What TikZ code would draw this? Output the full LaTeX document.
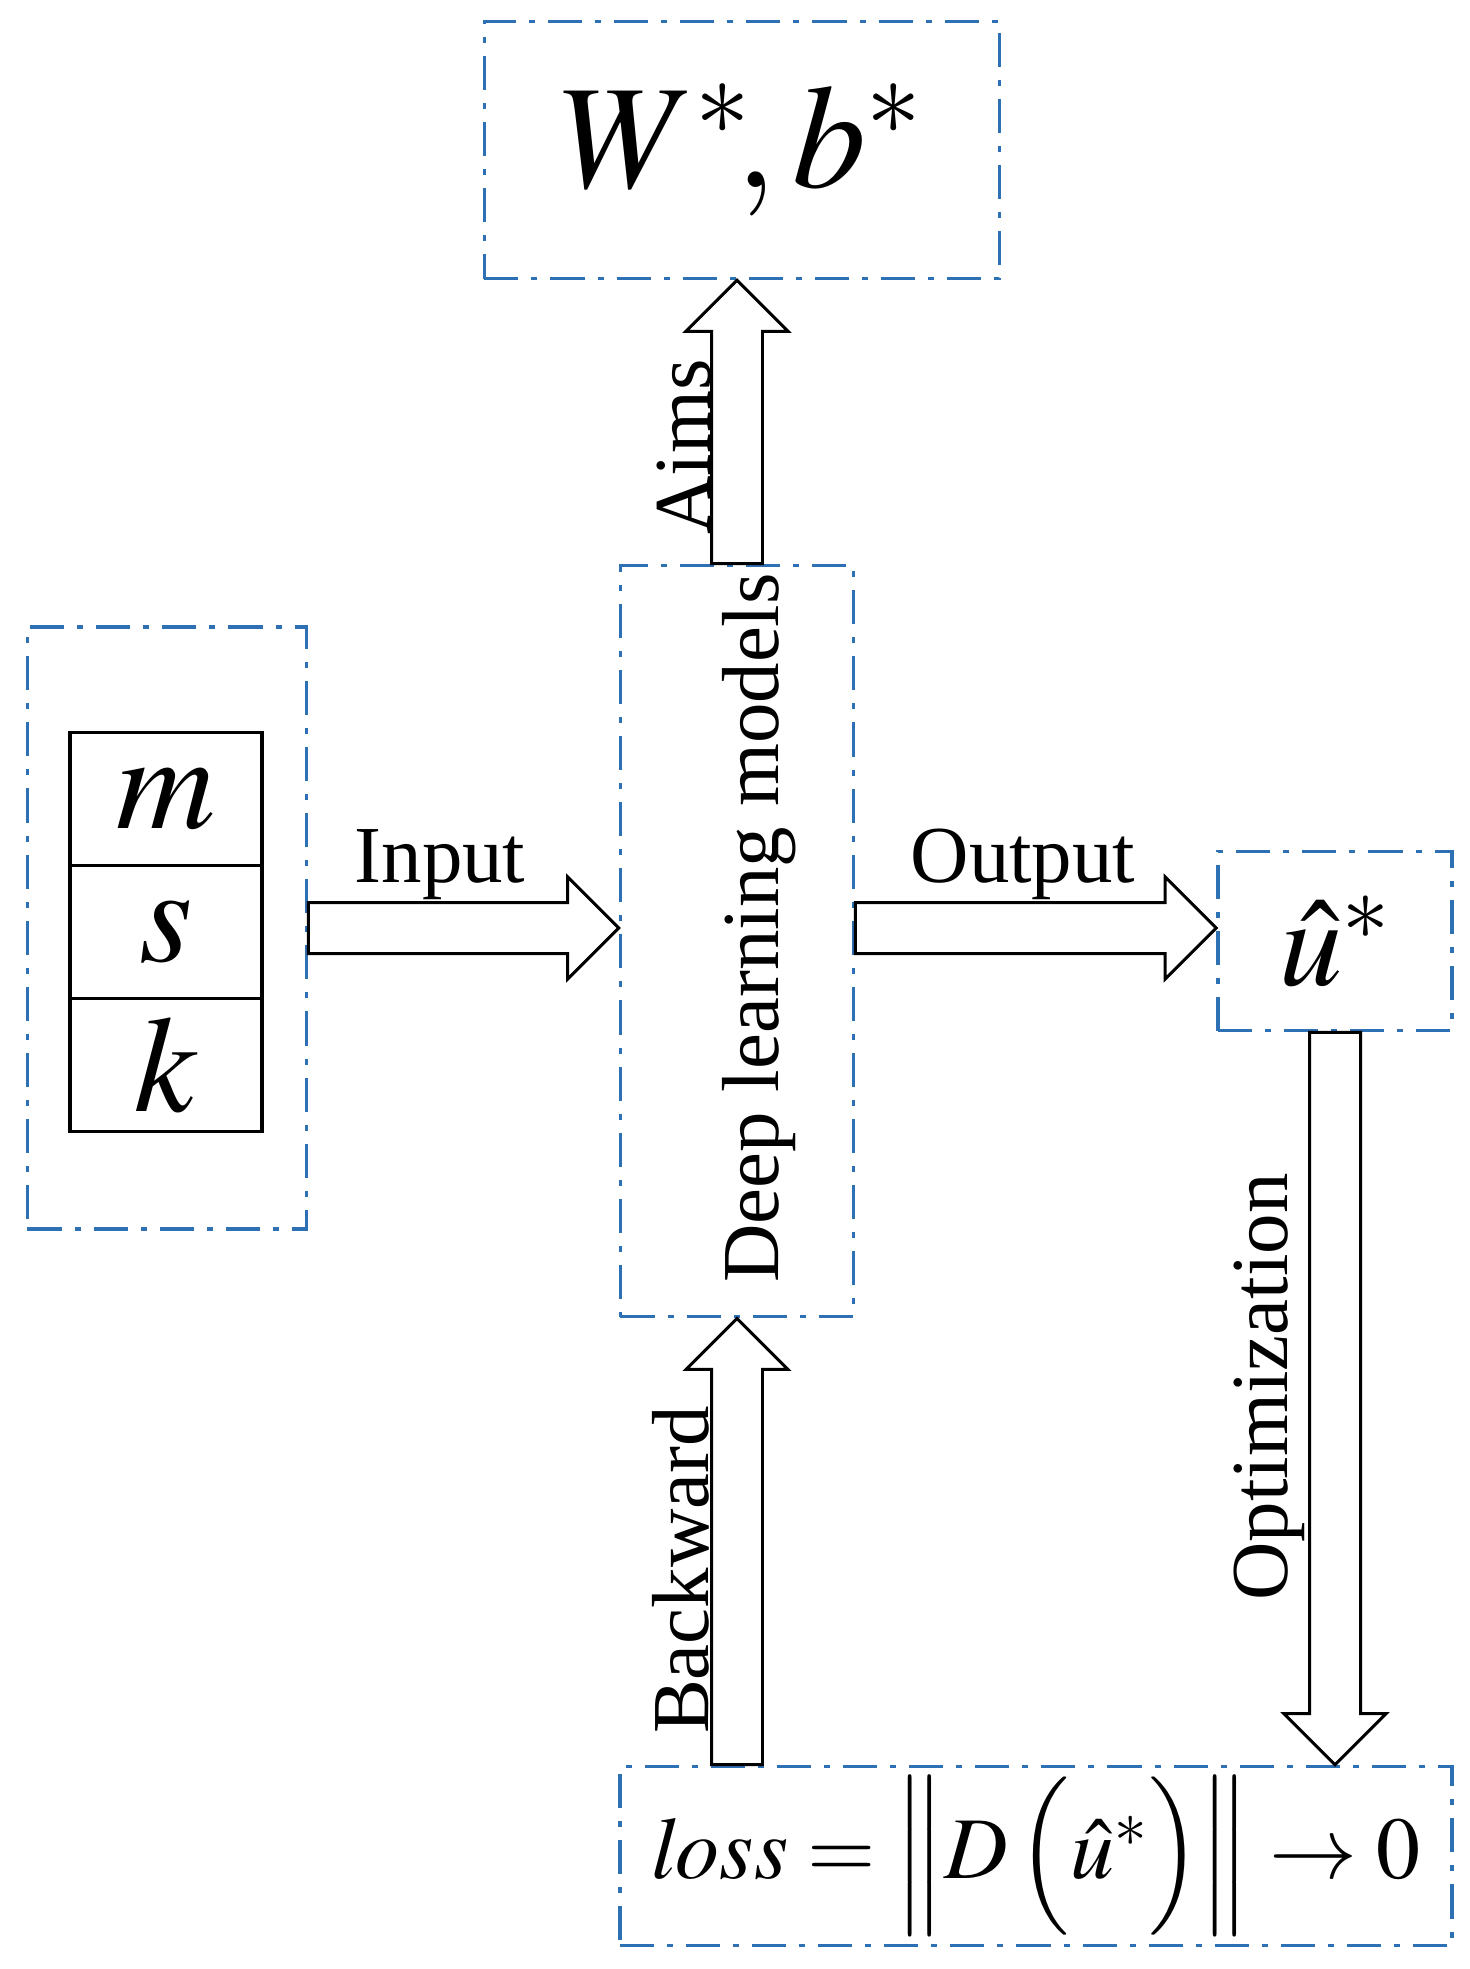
\documentclass[tikz,border=0pt]{standalone}
\usepackage{amsmath,mathptmx}
\usepackage[no-math]{fontspec}
\setmainfont{Liberation Serif}
\usetikzlibrary{calc}
\definecolor{dashblue}{RGB}{46,112,180}
\tikzstyle{frame}=[draw=dashblue, line width=1pt, dash pattern=on 9.7pt off 3.7pt on 1.7pt off 3.7pt, inner sep=0pt]
\tikzstyle{cell}=[draw, line width=0.9pt, minimum width=1.92cm, minimum height=1.33cm, inner sep=0pt, font=\fontsize{39}{44}\selectfont]
\tikzstyle{lbl}=[inner sep=0pt, font=\fontsize{23}{27}\selectfont]
\tikzstyle{fat}=[draw, fill=white, line width=0.85pt, to path={
    ($(\tikztostart)!7.25pt!90:(\tikztotarget)$)
    -- ($(\tikztotarget)!14.5pt!(\tikztostart)!7.25pt!-90:(\tikztostart)$)
    -- ($(\tikztotarget)!14.5pt!(\tikztostart)!14.5pt!-90:(\tikztostart)$)
    -- (\tikztotarget)
    -- ($(\tikztotarget)!14.5pt!(\tikztostart)!14.5pt!90:(\tikztostart)$)
    -- ($(\tikztotarget)!14.5pt!(\tikztostart)!7.25pt!90:(\tikztostart)$)
    -- ($(\tikztostart)!7.25pt!-90:(\tikztotarget)$) -- cycle}]
\newcommand{\cell}{\node[cell]}

\begin{document}
\begin{tikzpicture}[x=0.01cm, y=0.01cm]
            \useasboundingbox (0,0) rectangle (1469,-1969);
            \node[frame, minimum width=5.15cm, minimum height=2.57cm, font=\fontsize{42}{48}\selectfont] (wb) at (742,-150) {$W^{*}\!,b^{*}$};
            \node[frame, minimum width=2.33cm, minimum height=7.51cm] (dl) at (737,-941) {};
            \node[frame, minimum width=2.79cm, minimum height=6.02cm] (in) at (167,-928) {};
            \node[frame, minimum width=2.34cm, minimum height=1.79cm, font=\fontsize{36}{42}\selectfont] (u) at (1335,-941) {$\hat{u}^{*}$};
            \node[frame, minimum width=8.32cm, minimum height=1.79cm, font=\fontsize{25}{30}\selectfont] (loss) at (1036,-1856) {$\mathit{loss}=\left\|D\left(\hat{u}^{*}\rule[-12pt]{0pt}{37pt}\right)\right\|\rightarrow 0$};
            \foreach \v [count=\i] in {m,s,k}
                \cell (c\i) at (166,-666-133*\i) {$\v$};
            \coordinate (intip) at (dl.west |- in.east);
            \coordinate (outtail) at (dl.east |- in.east);
            \coordinate (outtip) at (u.west |- in.east);
            \coordinate (aimstip) at (dl.north |- wb.south);
            \coordinate (opttip) at (u.south |- loss.north);
            \coordinate (backtail) at (dl.south |- loss.north);
            \path
                (in.east) edge[fat] (intip)
                (outtail) edge[fat] (outtip)
                (dl.north) edge[fat] (aimstip)
                (u.south) edge[fat] (opttip)
                (backtail) edge[fat] (dl.south)
            ;
            \node[lbl, anchor=base] (inlbl) at (440,-882) {Input};
            \node[lbl, anchor=base] (outlbl) at (1023,-882) {Output};
            \node[lbl, rotate=90, anchor=base] (aimslbl) at (710,-447) {Aims};
            \node[lbl, rotate=90, anchor=base] (dllbl) at (778,-928) {Deep learning models};
            \node[lbl, rotate=90, anchor=base] (optlbl) at (1287,-1387) {Optimization};
            \node[lbl, rotate=90, anchor=base] (backlbl) at (708,-1570) {Backward};
        \end{tikzpicture}
\end{document}
